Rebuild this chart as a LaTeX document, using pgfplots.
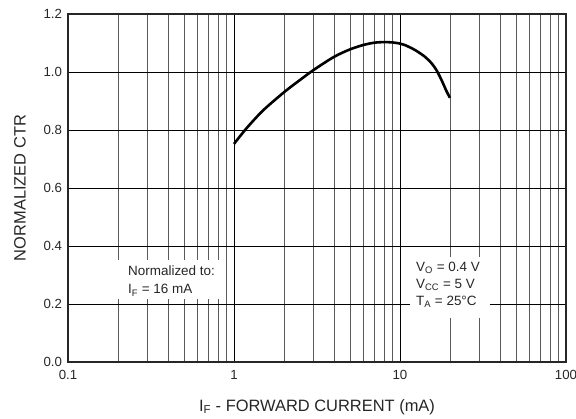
\documentclass[border=0pt]{standalone}
\usepackage{fontspec}
\setmainfont{Liberation Sans}
\usepackage{pgfplots}
\pgfplotsset{compat=1.18}
\begin{document}
\begin{tikzpicture}
\path[use as bounding box] (-68bp,-57bp) rectangle (508bp,362bp);
\begin{axis}[
  at={(0,0)}, anchor=south west,
  scale only axis, width=498bp, height=348bp,
  xmode=log, log basis x=10,
  xmin=0.1, xmax=100, ymin=0, ymax=1.2,
  xtick={0.1,1,10,100}, xticklabels={0.1,1,10,100},
  minor xtick={0.2,0.3,0.4,0.5,0.6,0.7,0.8,0.9,2,3,4,5,6,7,8,9,20,30,40,50,60,70,80,90},
  ytick={0,0.2,0.4,0.6,0.8,1.0,1.2},
  yticklabels={0.0,0.2,0.4,0.6,0.8,1.0,1.2},
  xmajorgrids, ymajorgrids, xminorgrids,
  major grid style={black, line width=0.7bp},
  minor grid style={black!65, line width=0.7bp},
  major tick length=0pt, minor tick length=0pt,
  axis line style={line width=1.2bp, black!85},
  tick label style={font=\fontsize{13.3}{15}\selectfont, text=black!85},
  xticklabel style={yshift=-5bp},
  yticklabel style={xshift=-2.5bp},
  label style={font=\fontsize{16.5}{19}\selectfont, text=black!85},
  xlabel={I\textsubscript{F} - FORWARD CURRENT (mA)},
  ylabel={NORMALIZED CTR},
  xlabel style={at={(axis description cs:0.5,-0.1293)}, anchor=center},
  ylabel style={at={(axis description cs:-0.0964,0.5)}, anchor=center},
]
\addplot[black, line width=2.6bp, smooth, tension=0.5] coordinates {
  (1,0.752) (1.19,0.806) (1.5,0.868) (2,0.930) (2.4,0.965) (3,1.006)
  (4,1.052) (5,1.078) (6,1.093) (7,1.101) (8,1.103) (9,1.102) (10,1.098)
  (10.7,1.093) (12.3,1.076) (14.1,1.053) (15.5,1.030) (16.6,1.006)
  (17.8,0.972) (19.1,0.933) (20,0.911)
};
\fill[white] (axis cs:0.197,0.217) rectangle (axis cs:0.824,0.352);
\fill[white] (axis cs:11.5,0.152) rectangle (axis cs:34.8,0.362);
\node[anchor=west, align=left, inner sep=0pt, text=black!85,
  font=\fontsize{13.5}{18}\selectfont] at (axis cs:0.2298,0.279)
  {Normalized to:\\I\textsubscript{F} = 16 mA};
\node[anchor=west, align=left, inner sep=0pt, text=black!85,
  font=\fontsize{13.5}{17}\selectfont] at (axis cs:12.49,0.2655)
  {V\textsubscript{O} = 0.4 V\\V\textsubscript{CC} = 5 V\\T\textsubscript{A} = 25°C};
\end{axis}
\end{tikzpicture}
\end{document}
